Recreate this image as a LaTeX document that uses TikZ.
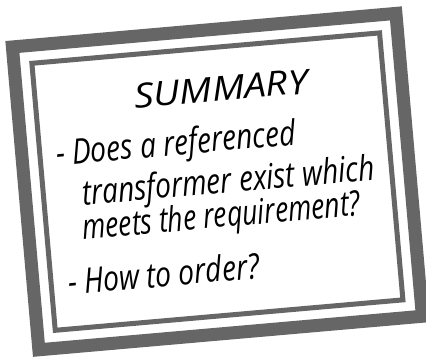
\documentclass[tikz,border=0pt]{standalone}
\usepackage{fontspec}
\usepackage{graphicx}
\setmainfont{Open Sans}
\definecolor{framegray}{HTML}{666666}
\tikzset{
  band/.style={fill=framegray, even odd rule},
  txt/.style={anchor=base west, inner sep=0pt, outer sep=0pt, text=black, text height=24pt, text depth=2pt, font=\fontsize{35}{35}\selectfont\itshape},
  titletxt/.style={txt, font=\fontsize{34}{34}\selectfont\itshape}
}
\newcommand{\fitw}[2]{\resizebox{#1pt}{\height}{#2}}
\begin{document}
\begin{tikzpicture}[x=1pt, y=-1pt]
\useasboundingbox (0,0) rectangle (426,358);
\fill[white] (0,0) rectangle (426,358);
\begin{scope}[shift={(217.4,181.6)}, rotate=5, transform shape]
  \fill[band] (-199,-158.5) rectangle (199,158.5) (-186,-145.5) rectangle (186,145.5);
  \fill[band] (-177,-136.5) rectangle (177,136.5) (-172,-131.5) rectangle (172,131.5);
  \node[titletxt] (title) at (-75.5,-80) {\fitw{174}{SUMMARY}};
  \node[txt] (l1) at (-158.2,-30) {\fitw{240}{- Does a referenced}};
  \node[txt] (l2) at (-135.5,12) {\fitw{293}{transformer exist which}};
  \node[txt, text depth=7pt] (l3) at (-138.6,46) {\fitw{279}{meets the requirement?}};
  \node[txt] (l4) at (-157.7,100) {\fitw{192}{- How to order?}};
\end{scope}
\end{tikzpicture}
\end{document}
